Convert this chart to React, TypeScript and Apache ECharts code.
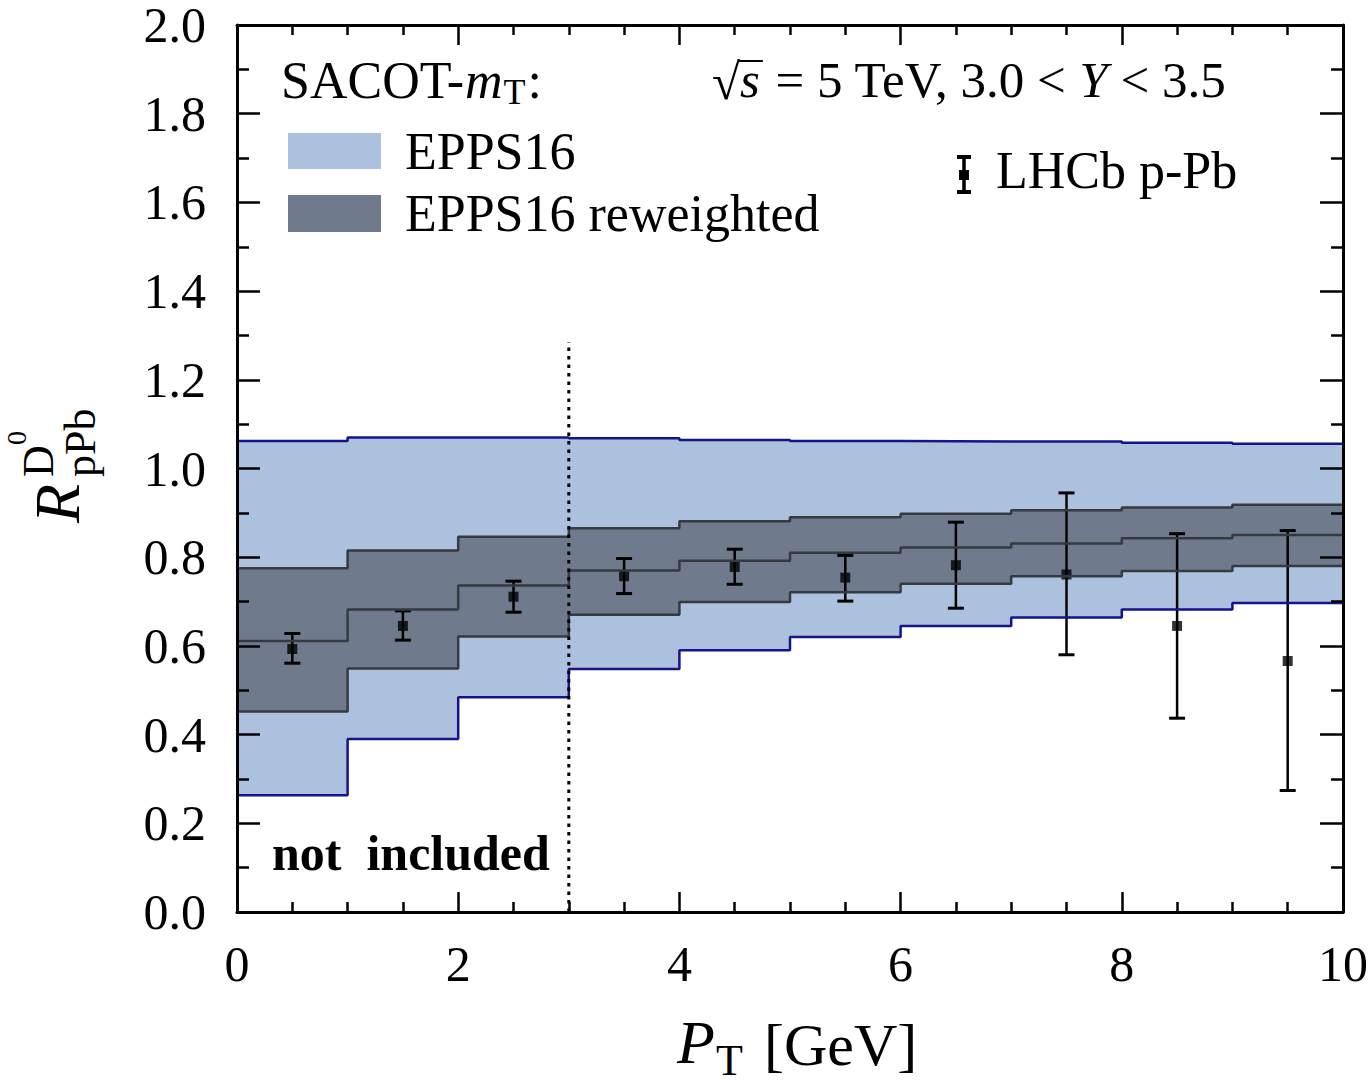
import React, { useEffect, useRef } from "react";
import * as echarts from "echarts";

// ---- data ----
const binEdges = [0, 1, 2, 3, 4, 5, 6, 7, 8, 9, 10];
const eppsUpper = [1.062, 1.07, 1.07, 1.068, 1.064, 1.062, 1.061, 1.061, 1.058, 1.056];
const eppsLower = [0.263, 0.39, 0.484, 0.548, 0.59, 0.62, 0.645, 0.664, 0.682, 0.697];
const rwUpper = [0.775, 0.815, 0.846, 0.865, 0.881, 0.89, 0.898, 0.906, 0.912, 0.918];
const rwCentral = [0.611, 0.682, 0.736, 0.77, 0.792, 0.81, 0.822, 0.831, 0.843, 0.85];
const rwLower = [0.452, 0.549, 0.621, 0.67, 0.699, 0.721, 0.74, 0.757, 0.769, 0.78];
const lhcbPt = [0.5, 1.5, 2.5, 3.5, 4.5, 5.5, 6.5, 7.5, 8.5, 9.5];
const lhcbVal = [0.593, 0.645, 0.711, 0.757, 0.778, 0.754, 0.782, 0.761, 0.645, 0.566];
const lhcbLow = [0.561, 0.613, 0.676, 0.718, 0.739, 0.701, 0.685, 0.58, 0.437, 0.274];
const lhcbHigh = [0.628, 0.679, 0.746, 0.797, 0.818, 0.804, 0.879, 0.945, 0.853, 0.86];
const cutX = 3;
const cutTop = 1.285;
const xMin = 0, xMax = 10, xInterval = 2;
const yMin = 0, yMax = 2, yInterval = 0.2;

const FONT = "'Liberation Serif', 'Times New Roman', serif";

function stepData(vals: number[]) {
  return binEdges.map((x, i) => [x, vals[Math.min(i, vals.length - 1)]]);
}
function bandData(lo: number[], hi: number[]) {
  return lo.map((l, i) => [binEdges[i], binEdges[i + 1], l, hi[i]]);
}

let measureCtx: CanvasRenderingContext2D | null = null;
function tw(text: string, font: string) {
  if (!measureCtx) measureCtx = document.createElement("canvas").getContext("2d");
  measureCtx!.font = font;
  return measureCtx!.measureText(text).width;
}

function txt(text: string, x: number, y: number, size: number, opts: any = {}) {
  return {
    type: "text",
    x,
    y,
    z: 100,
    rotation: opts.rotation || 0,
    style: {
      text,
      fill: "#000",
      font: `${opts.style || "normal"} ${opts.weight || "normal"} ${size}px ${FONT}`,
      align: opts.align || "left",
      verticalAlign: "middle",
    },
  };
}

export default function App() {
  const ref = useRef<HTMLDivElement>(null);
  useEffect(() => {
    document.documentElement.style.overflow = "hidden";
    document.body.style.margin = "0";
    document.body.style.overflow = "hidden";
    const chart = echarts.init(ref.current!, null, { renderer: "svg", width: 1371, height: 1083 });

    const axisCommon = (pos: string, isX: boolean, showLabel: boolean) => ({
      type: "value",
      position: pos,
      min: isX ? xMin : yMin,
      max: isX ? xMax : yMax,
      interval: isX ? xInterval : yInterval,
      axisLine: { show: true, onZero: false, lineStyle: { color: "#000", width: 3 } },
      axisTick: { show: true, inside: true, length: isX ? 20 : 23, lineStyle: { color: "#000", width: 2.5 } },
      minorTick: { show: true, splitNumber: isX ? 4 : 2, length: isX ? 10 : 12, lineStyle: { color: "#000", width: 2.5 } },
      splitLine: { show: false },
      minorSplitLine: { show: false },
      z: 10,
      axisLabel: {
        show: showLabel,
        color: "#000",
        fontSize: 50,
        fontFamily: FONT,
        margin: isX ? 27 : 31,
        formatter: isX ? (v: number) => String(v) : (v: number) => v.toFixed(1),
      },
    });

    const g: any[] = [];
    // SACOT-mT:
    {
      let x = 281;
      const cy = 80;
      const f = (st = "normal", sz = 52) => `${st} normal ${sz}px ${FONT}`;
      g.push(txt("SACOT-", x, cy, 52));
      x += tw("SACOT-", f()) + 1;
      g.push(txt("m", x, cy, 52, { style: "italic" }));
      x += tw("m", f("italic")) + 1;
      g.push(txt("T", x, cy + 12, 36));
      x += tw("T", f("normal", 36)) + 2;
      g.push(txt(":", x, cy, 52));
    }
    // sqrt s line
    {
      let x = 712;
      const cy = 80;
      const fs = 51;
      const f = (st = "normal") => `${st} normal ${fs}px ${FONT}`;
      g.push(txt("\u221A", x, cy + 2, fs));
      x += tw("\u221A", f());
      const sStart = x;
      g.push(txt("s", x, cy, fs, { style: "italic" }));
      x += tw("s", f("italic")) + 3;
      g.push({ type: "line", z: 100, shape: { x1: sStart - 1, y1: 61, x2: x, y2: 61 }, style: { stroke: "#000", lineWidth: 2 } });
      const mid = " = 5 TeV, 3.0 < ";
      g.push(txt(mid, x, cy, fs));
      x += tw(mid, f());
      g.push(txt("Y", x, cy, fs, { style: "italic" }));
      x += tw("Y", f("italic"));
      g.push(txt(" < 3.5", x, cy, fs));
    }
    // legend
    g.push({ type: "rect", z: 100, shape: { x: 288, y: 133, width: 93, height: 36 }, style: { fill: "#abc1de" } });
    g.push({ type: "rect", z: 100, shape: { x: 288, y: 195, width: 93, height: 37 }, style: { fill: "#6f7b8c" } });
    g.push(txt("EPPS16", 405, 151, 52));
    g.push(txt("EPPS16 reweighted", 405, 213, 52));
    // LHCb legend marker
    g.push({ type: "line", z: 100, shape: { x1: 964, y1: 157, x2: 964, y2: 192 }, style: { stroke: "#000", lineWidth: 3.5 } });
    g.push({ type: "line", z: 100, shape: { x1: 957, y1: 157, x2: 971, y2: 157 }, style: { stroke: "#000", lineWidth: 4 } });
    g.push({ type: "line", z: 100, shape: { x1: 957, y1: 192, x2: 971, y2: 192 }, style: { stroke: "#000", lineWidth: 4 } });
    g.push({ type: "rect", z: 100, shape: { x: 959, y: 170, width: 10, height: 10 }, style: { fill: "#000" } });
    g.push(txt("LHCb p-Pb", 996, 170, 52));
    // not included
    g.push(txt("not  included", 272, 853, 50, { weight: "bold" }));
    // x title
    g.push(txt("P", 677, 1042, 62, { style: "italic" }));
    g.push(txt("T", 716, 1060, 44));
    g.push(txt("[GeV]", 764, 1045, 60));
    // y title (rotated)
    const rot = Math.PI / 2;
    g.push(txt("R", 57, 523, 64, { style: "italic", rotation: rot }));
    g.push(txt("pPb", 80, 477, 44, { rotation: rot }));
    g.push(txt("D", 38, 477, 44, { rotation: rot }));
    g.push(txt("0", 16, 445, 28, { rotation: rot }));

    const lineS = (name: string, vals: number[], color: string, width: number) => ({
      name,
      type: "line",
      step: "end",
      data: stepData(vals),
      symbol: "none",
      silent: true,
      lineStyle: { color, width },
    });

    const bandS = (name: string, lo: number[], hi: number[], color: string) => ({
      name,
      type: "custom",
      data: bandData(lo, hi),
      encode: { x: [0, 1], y: [2, 3] },
      silent: true,
      renderItem: (params: any, api: any) => {
        const p0 = api.coord([api.value(0), api.value(3)]);
        const p1 = api.coord([api.value(1), api.value(2)]);
        return {
          type: "rect",
          shape: { x: p0[0] - 0.5, y: p0[1], width: p1[0] - p0[0] + 1, height: p1[1] - p0[1] },
          style: { fill: color },
        };
      },
    });

    const option: any = {
      animation: false,
      grid: { left: 237, right: 21, top: 22, bottom: 171, containLabel: false },
      xAxis: [axisCommon("bottom", true, true), axisCommon("top", true, false)],
      yAxis: [axisCommon("left", false, true), axisCommon("right", false, false)],
      series: [
        bandS("EPPS16", eppsLower, eppsUpper, "#abc1de"),
        bandS("EPPS16 reweighted", rwLower, rwUpper, "#6f7b8c"),
        lineS("eppsUpperLine", eppsUpper, "#14148c", 2.5),
        lineS("eppsLowerLine", eppsLower, "#14148c", 2.5),
        lineS("rwUpperLine", rwUpper, "#363a40", 2.5),
        lineS("rwCentralLine", rwCentral, "#363a40", 2.5),
        lineS("rwLowerLine", rwLower, "#363a40", 2.5),
        {
          name: "cut",
          type: "line",
          data: [
            [cutX, yMin],
            [cutX, cutTop],
          ],
          symbol: "none",
          silent: true,
          lineStyle: { color: "#000", width: 3, type: [3.5, 5] },
        },
        {
          name: "errors",
          type: "custom",
          data: lhcbPt.map((x, i) => [x, lhcbLow[i], lhcbHigh[i]]),
          encode: { x: 0, y: [1, 2] },
          silent: true,
          renderItem: (params: any, api: any) => {
            const x = api.value(0);
            const pLo = api.coord([x, api.value(1)]);
            const pHi = api.coord([x, api.value(2)]);
            const hw = 8;
            return {
              type: "group",
              children: [
                { type: "line", shape: { x1: pLo[0], y1: pLo[1], x2: pHi[0], y2: pHi[1] }, style: { stroke: "#000", lineWidth: 2.5 } },
                { type: "line", shape: { x1: pLo[0] - hw, y1: pLo[1], x2: pLo[0] + hw, y2: pLo[1] }, style: { stroke: "#000", lineWidth: 3 } },
                { type: "line", shape: { x1: pHi[0] - hw, y1: pHi[1], x2: pHi[0] + hw, y2: pHi[1] }, style: { stroke: "#000", lineWidth: 3 } },
              ],
            };
          },
        },
        {
          name: "LHCb p-Pb",
          type: "scatter",
          data: lhcbPt.map((x, i) => [x, lhcbVal[i]]),
          symbol: "rect",
          symbolSize: 10,
          itemStyle: { color: "#000" },
          silent: true,
        },
      ],
      graphic: g,
    };
    chart.setOption(option);
    return () => chart.dispose();
  }, []);
  return <div ref={ref} style={{ position: "absolute", left: 0, top: 0, width: 1371, height: 1083, background: "#fff" }} />;
}
